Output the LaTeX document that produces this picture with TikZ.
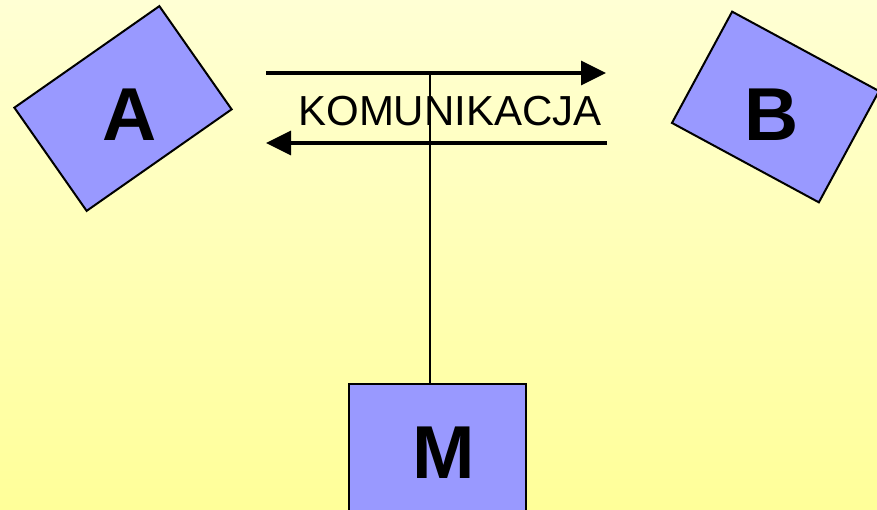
\documentclass[tikz,border=0pt]{standalone}
\usepackage{fontspec}
\setmainfont{Liberation Sans}
\usetikzlibrary{arrows.meta}
\definecolor{boxblue}{HTML}{9999FF}
\definecolor{bgtop}{HTML}{FFFFD4}
\definecolor{bgbot}{HTML}{FFFF99}
\tikzset{
  box/.style={draw=black, line width=2pt, fill=boxblue, inner sep=0pt},
  letter/.style={font=\fontsize{75}{80}\selectfont\bfseries, inner sep=0pt},
  arr/.style={line width=3.2pt, -{Triangle[length=25pt,width=24pt]}},
  thin/.style={line width=2pt}
}
\begin{document}
\begin{tikzpicture}[x=1pt,y=-1pt]
\useasboundingbox (0,0) rectangle (877,509);
\shade[top color=bgtop, bottom color=bgbot] (0,0) rectangle (877,509);
\begin{scope}
\clip (0,0) rectangle (877,509);
\node[box, rotate=35, minimum width=177pt, minimum height=126pt] (A) at (123,108.5) {};
\node[box, rotate=-28.4, minimum width=167pt, minimum height=126.5pt] (B) at (775.5,107) {};
\node[box, minimum width=177pt, minimum height=180pt, anchor=north west] (M) at (348,383.3) {};
\end{scope}
\node[letter] (Al) at (130,115) {A};
\node[letter] (Bl) at (771.5,114.5) {B};
\node[letter] (Ml) at (443.5,453) {M};
\coordinate (t1) at (266,73);
\coordinate (t2) at (606,73);
\coordinate (b1) at (607,143);
\coordinate (b2) at (266,143);
\coordinate (mid) at (430,73);
\draw[arr] (t1) -- (t2);
\draw[arr] (b1) -- (b2);
\draw[thin] (mid) -- (mid |- M.north);
\node[font=\fontsize{42}{46}\selectfont, inner sep=0pt] (kom) at (450,111) {KOMUNIKACJA};
\end{tikzpicture}
\end{document}
